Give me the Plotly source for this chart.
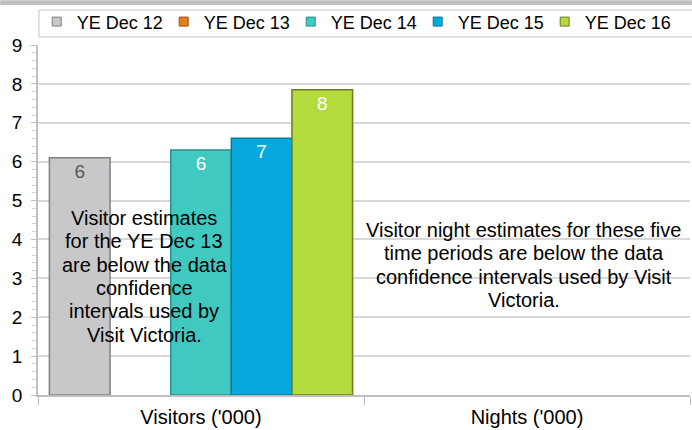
import plotly.graph_objects as go

categories = ["Visitors ('000)", "Nights ('000)"]
series_names = ["YE Dec 12", "YE Dec 13", "YE Dec 14", "YE Dec 15", "YE Dec 16"]
values = {
    "YE Dec 12": [6.1, None],
    "YE Dec 13": [None, None],
    "YE Dec 14": [6.3, None],
    "YE Dec 15": [6.6, None],
    "YE Dec 16": [7.85, None],
}
fills = ["#c8c8ca", "#e8801e", "#40c9c1", "#07a9dd", "#b5da3e"]
edges = ["#808080", "#9a5010", "#2a8f8a", "#05789f", "#66801e"]
label_colors = ["#595959", "#ffffff", "#ffffff", "#ffffff", "#ffffff"]

note_visitors_lines = ["Visitor estimates", "for the YE Dec 13", "are below the data",
                       "confidence", "intervals used by", "Visit Victoria."]
note_nights_lines = ["Visitor night estimates for these five", "time periods are below the data",
                     "confidence intervals used by Visit", "Victoria."]

FONT = "Liberation Sans, Arial, sans-serif"

fig = go.Figure()
for name, fc, ec, lc in zip(series_names, fills, edges, label_colors):
    fig.add_trace(go.Bar(
        name=name, x=categories, y=values[name], showlegend=False,
        marker=dict(color=fc, line=dict(color=ec, width=1.5)),
        texttemplate="%{y:.0f}", textposition="inside", insidetextanchor="end",
        textfont=dict(color=lc, size=19, family=FONT),
    ))
# legend entries with small square swatches
for name, fc, ec in zip(series_names, fills, edges):
    fig.add_trace(go.Scatter(
        name=name, x=[categories[0]], y=[None], mode="markers", showlegend=True,
        marker=dict(symbol="square", size=9, color=fc, line=dict(color=ec, width=1)),
        hoverinfo="skip",
    ))

fig.update_layout(
    width=692, height=430,
    margin=dict(l=38, r=2, t=45, b=35, autoexpand=False),
    barmode="group", bargap=0.07, bargroupgap=0,
    plot_bgcolor="white", paper_bgcolor="white",
    font=dict(family=FONT, size=18, color="#000000"),
    showlegend=True,
    legend=dict(orientation="h", x=-0.002, xanchor="left", y=1.066, yanchor="middle",
                font=dict(size=18, family=FONT), entrywidth=82, entrywidthmode="pixels",
                bgcolor="rgba(0,0,0,0)", itemclick=False, tracegroupgap=0),
    uniformtext=dict(mode="show", minsize=10),
)
fig.update_xaxes(showline=True, linecolor="#bfbfbf", linewidth=1.5,
                 ticks="outside", tickson="boundaries", ticklen=8, tickcolor="#bfbfbf",
                 tickfont=dict(size=20), showgrid=False, ticklabelstandoff=3)
fig.update_yaxes(range=[0, 9], dtick=1, showline=True, linecolor="#bfbfbf", linewidth=1.5,
                 gridcolor="#d9d9d9", gridwidth=1.5, zeroline=False,
                 ticks="outside", ticklen=5, tickcolor="#bfbfbf", tickfont=dict(size=19),
                 ticklabelstandoff=5,
                 minor=dict(dtick=0.2, ticks="outside", ticklen=4, tickcolor="#d0d0d0", showgrid=False))

fig.add_shape(type="rect", xref="paper", yref="paper", x0=-0.058, x1=1.003, y0=1.1145, y1=1.128,
              fillcolor="#bfbfbf", line=dict(width=0), layer="above")
fig.add_shape(type="rect", xref="paper", yref="paper", x0=0.0015, x1=1.01, y0=1.023, y1=1.1,
              fillcolor="rgba(0,0,0,0)", line=dict(color="#d9d9d9", width=1.5))

step = 0.6
for i, line in enumerate(note_visitors_lines):
    fig.add_annotation(x=-0.174, y=4.55 - i * step, text=line, showarrow=False,
                       font=dict(size=20, family=FONT, color="#000000"), align="center")
for i, line in enumerate(note_nights_lines):
    fig.add_annotation(x=0.99, y=4.24 - i * step, text=line, showarrow=False,
                       font=dict(size=20, family=FONT, color="#000000"), align="center")

fig.write_html("out.html", config={"displayModeBar": False},
               post_script="document.body.style.margin='0px';document.body.style.overflow='hidden';")
